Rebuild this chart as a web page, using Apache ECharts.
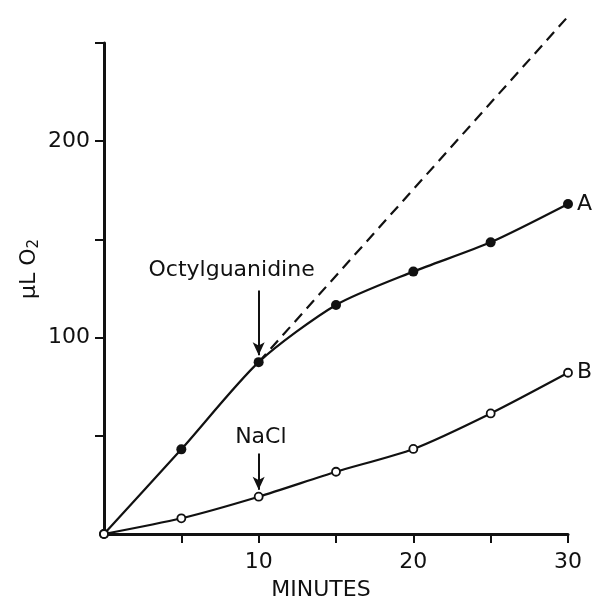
<!DOCTYPE html>
<html>
<head>
<meta charset="utf-8">
<script src="https://cdn.jsdelivr.net/npm/echarts@6/dist/echarts.min.js"></script>
<style>
  html, body { margin: 0; padding: 0; background: #fff; }
  #chart { width: 595px; height: 605px; }
</style>
</head>
<body>
<div id="chart"></div>
<script>
// data
const minutes = [0, 5, 10, 15, 20, 25, 30];
const curveA = [0, 43.1, 87.5, 116.6, 133.6, 148.5, 168];  // Octylguanidine added at 10 min
const curveB = [0, 8, 19, 31.7, 43.3, 61.4, 82.1];          // NaCl added at 10 min
const dashX = [10, 30];                                      // extrapolation of the initial rate
const dashY = [87.5, 263.5];
const xTicks = [5, 10, 15, 20, 25, 30];
const xLabelTicks = [10, 20, 30];
const yTicks = [50, 100, 150, 200, 250];
const yLabelTicks = [100, 200];

const font = 'DejaVu Sans';
const ink = '#111';

const chart = echarts.init(document.getElementById('chart'));

// arrow from label down to the point where the addition was made
const arrow = (from, to) => ({
  silent: true,
  symbol: ['none', 'arrow'],
  symbolSize: [9, 13],
  label: { show: false },
  lineStyle: { color: ink, width: 2, type: 'solid' },
  data: [[{ coord: from }, { coord: to }]]
});

const note = (text, at) => ({
  symbol: 'circle',
  symbolSize: 1,
  itemStyle: { color: 'rgba(0,0,0,0)' },
  label: { show: true, position: 'inside', fontFamily: font, fontSize: 22, color: ink, formatter: p => p.name },
  data: [{ name: text, coord: at }]
});

const option = {
  backgroundColor: '#fff',
  animation: false,
  grid: { left: 104, right: 27, top: 43, bottom: 71, outerBoundsMode: 'none' },
  xAxis: {
    type: 'value',
    min: 0,
    max: 30,
    interval: 5,
    name: 'MINUTES',
    nameLocation: 'middle',
    nameGap: 45,
    nameTextStyle: { fontFamily: font, fontSize: 22, color: ink, padding: [0, 30, 0, 0] },
    axisLine: { lineStyle: { color: ink, width: 3 } },
    axisTick: { length: 9, customValues: xTicks, lineStyle: { color: ink, width: 2 } },
    axisLabel: {
      margin: 17,
      fontFamily: font,
      fontSize: 22,
      color: ink,
      customValues: xLabelTicks
    },
    splitLine: { show: false }
  },
  yAxis: {
    type: 'value',
    min: 0,
    max: 250,
    interval: 50,
    axisLine: { show: true, lineStyle: { color: ink, width: 3 } },
    axisTick: { show: true, length: 9, customValues: yTicks, lineStyle: { color: ink, width: 2 } },
    axisLabel: {
      margin: 14,
      fontFamily: font,
      fontSize: 22,
      color: ink,
      customValues: yLabelTicks
    },
    splitLine: { show: false }
  },
  graphic: [{
    type: 'text',
    x: 29,
    y: 269,
    rotation: Math.PI / 2,
    style: {
      text: '{a|μL O}{b|2}',
      align: 'center',
      verticalAlign: 'middle',
      fill: ink,
      rich: {
        a: { fontFamily: font, fontSize: 22, fill: ink },
        b: { fontFamily: font, fontSize: 15, fill: ink, verticalAlign: 'bottom', padding: [10, 0, 0, 0] }
      }
    }
  }],
  series: [
    {
      name: 'extrapolated',
      type: 'line',
      data: dashX.map((x, i) => [x, dashY[i]]),
      symbol: 'none',
      clip: false,
      lineStyle: { color: ink, width: 2.2, type: [11, 7] },
      z: 1
    },
    {
      name: 'A',
      type: 'line',
      data: minutes.map((x, i) => [x, curveA[i]]),
      smooth: 0.25,
      symbol: 'circle',
      symbolSize: 10,
      itemStyle: { color: ink },
      lineStyle: { color: ink, width: 2.2 },
      endLabel: { show: true, formatter: 'A', distance: 9, fontFamily: font, fontSize: 22, color: ink },
      markLine: arrow([10, 124], [10, 91]),
      markPoint: note('Octylguanidine', [8.25, 134.4]),
      z: 3
    },
    {
      name: 'B',
      type: 'line',
      data: minutes.map((x, i) => [x, curveB[i]]),
      smooth: 0.25,
      symbol: 'circle',
      symbolSize: 8,
      itemStyle: { color: '#fff', borderColor: ink, borderWidth: 1.8 },
      lineStyle: { color: ink, width: 2.2 },
      endLabel: { show: true, formatter: 'B', distance: 9, fontFamily: font, fontSize: 22, color: ink },
      markLine: arrow([10, 41], [10, 22.5]),
      markPoint: note('NaCl', [10.14, 49.4]),
      z: 3
    }
  ]
};

chart.setOption(option);
</script>
</body>
</html>
